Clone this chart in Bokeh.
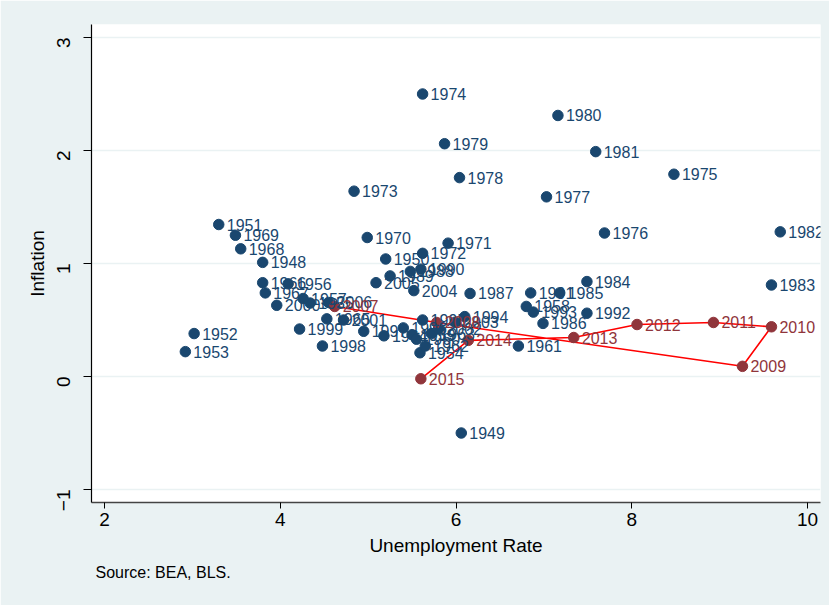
from bokeh.plotting import figure
from bokeh.models import Range1d, ColumnDataSource, LabelSet, FixedTicker, Title
from bokeh.core.properties import value
from bokeh.embed import file_html
from bokeh.resources import INLINE
import math

# Blue points: years before 2007
years = ["1948","1949","1950","1951","1952","1953","1954","1955","1956","1957",
         "1958","1959","1960","1961","1962","1963","1964","1965","1966","1967",
         "1968","1969","1970","1971","1972","1973","1974","1975","1976","1977",
         "1978","1979","1980","1981","1982","1983","1984","1985","1986","1987",
         "1988","1989","1990","1991","1992","1993","1994","1995","1996","1997",
         "1998","1999","2000","2001","2002","2003","2004","2005","2006"]
unemp = [3.80, 6.06, 5.20, 3.30, 3.02, 2.92, 5.59, 4.34, 4.09, 4.26,
         6.80, 5.50, 5.55, 6.71, 5.65, 5.72, 5.18, 4.53, 3.80, 3.83,
         3.55, 3.49, 4.99, 5.91, 5.62, 4.84, 5.62, 8.48, 7.69, 7.03,
         6.04, 5.87, 7.16, 7.59, 9.69, 9.59, 7.49, 7.18, 6.99, 6.16,
         5.48, 5.25, 5.60, 6.85, 7.49, 6.88, 6.10, 5.62, 5.40, 4.95,
         4.48, 4.22, 3.96, 4.72, 5.80, 5.99, 5.52, 5.09, 4.55]
infl = [1.01, -0.50, 1.04, 1.345, 0.38, 0.22, 0.21, 0.65, 0.82, 0.69,
        0.62, 0.37, 0.33, 0.27, 0.27, 0.38, 0.36, 0.51, 0.83, 0.74,
        1.13, 1.25, 1.23, 1.18, 1.09, 1.64, 2.50, 1.79, 1.27, 1.59,
        1.76, 2.06, 2.31, 1.99, 1.28, 0.81, 0.84, 0.74, 0.47, 0.735,
        0.93, 0.89, 0.95, 0.74, 0.56, 0.57, 0.53, 0.50, 0.43, 0.40,
        0.27, 0.42, 0.63, 0.50, 0.42, 0.48, 0.76, 0.83, 0.655]

# Red points: 2007-2015, connected
years_r = ["2007","2008","2009","2010","2011","2012","2013","2014","2015"]
unemp_r = [4.62, 5.78, 9.26, 9.59, 8.93, 8.06, 7.34, 6.14, 5.60]
infl_r = [0.62, 0.478, 0.09, 0.44, 0.478, 0.46, 0.345, 0.32, -0.02]

# tick positions
yticks = [-1, 0, 1, 2, 3]
xticks = [2, 4, 6, 8, 10]

BLUE = "#1a476f"
RED = "#90353b"
BG = "#eaf2f3"
FONT = "Liberation Sans"

p = figure(width=829, height=605, output_backend="svg", toolbar_location=None,
           x_range=Range1d(1.852, 10.148), y_range=Range1d(-1.115, 3.115),
           min_border_left=91, min_border_right=9, min_border_top=24,
           min_border_bottom=103)
p.background_fill_color = "white"
p.border_fill_color = BG
p.outline_line_color = None

src_b = ColumnDataSource(dict(x=unemp, y=infl, t=years))
src_r = ColumnDataSource(dict(x=unemp_r, y=infl_r, t=years_r))

p.line("x", "y", source=src_r, line_color="#ff0000", line_width=1.6)
p.scatter("x", "y", source=src_b, size=10.5, fill_color=BLUE, line_color=BLUE)
p.scatter("x", "y", source=src_r, size=10.5, fill_color=RED, line_color=RED)

for src, col in ((src_b, BLUE), (src_r, RED)):
    lbl = LabelSet(x="x", y="y", text="t", source=src, x_offset=8, y_offset=0,
                   text_baseline="middle", text_align="left",
                   text_font=value(FONT), text_font_size=value("16px"),
                   text_color=value(col))
    p.add_layout(lbl)

# grid
p.xgrid.grid_line_color = None
p.ygrid.grid_line_color = BG
p.ygrid.grid_line_width = 1.5
p.ygrid.ticker = FixedTicker(ticks=yticks)

# axes
xa = p.xaxis[0]
xa.ticker = FixedTicker(ticks=xticks)
xa.axis_label = "Unemployment Rate"
xa.axis_label_text_font = FONT
xa.axis_label_text_font_size = "19px"
xa.axis_label_text_font_style = "normal"
xa.axis_label_text_color = "black"
xa.axis_label_standoff = 6
xa.major_label_text_font = FONT
xa.major_label_text_font_size = "19px"
xa.major_label_text_color = "black"
xa.major_label_standoff = 4
xa.axis_line_color = "#444444"
xa.axis_line_width = 1.6
xa.major_tick_in = 0
xa.major_tick_out = 6
xa.major_tick_line_color = "black"
xa.minor_tick_line_color = None

ya = p.yaxis[0]
ya.ticker = FixedTicker(ticks=yticks)
ya.axis_label = "Inflation"
ya.axis_label_text_font = FONT
ya.axis_label_text_font_size = "19px"
ya.axis_label_text_font_style = "normal"
ya.axis_label_text_color = "black"
ya.axis_label_standoff = 0
ya.major_label_text_font = FONT
ya.major_label_text_font_size = "19px"
ya.major_label_text_color = "black"
ya.major_label_orientation = math.pi / 2
ya.major_label_standoff = 20
ya.axis_line_color = "black"
ya.axis_line_width = 1.2
ya.major_tick_in = 0
ya.major_tick_out = 8
ya.major_tick_line_color = "black"
ya.minor_tick_line_color = None

src_title = Title(text="Source: BEA, BLS.", align="left", text_font=FONT,
                  text_font_size="16px", text_font_style="normal",
                  text_color="black", offset=4, standoff=6)
p.add_layout(src_title, "below")

open("out.html", "w").write(file_html(p, INLINE))
